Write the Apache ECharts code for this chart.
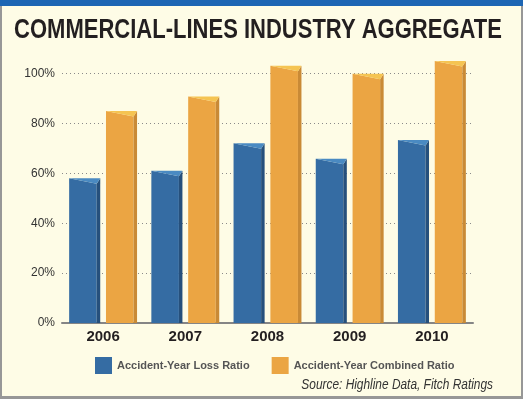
<!DOCTYPE html>
<html>
<head>
<meta charset="utf-8">
<script src="https://cdn.jsdelivr.net/npm/echarts@6/dist/echarts.min.js"></script>
<style>
html,body{margin:0;padding:0;background:#FEFCE6;}
#chart{width:523px;height:399px;}
</style>
</head>
<body>
<div id="chart"></div>
<script>
const titleText = 'COMMERCIAL-LINES INDUSTRY AGGREGATE';
const sourceText = 'Source: Highline Data, Fitch Ratings';
const categories = ['2006', '2007', '2008', '2009', '2010'];
const lossRatio = [58, 61, 72, 65.8, 73.3];
const combinedRatio = [85, 90.8, 103.1, 99.9, 105];
const seriesNames = ['Accident-Year Loss Ratio', 'Accident-Year Combined Ratio'];

const palettes = [
  { front: '#356CA3', side: '#26507C', cap: '#4A8AC2' },
  { front: '#EBA543', side: '#C98A36', cap: '#F5C452' }
];

function makeRender(kind) {
  return function (params, api) {
    const i = api.value(0), v = api.value(1);
    const top = api.coord([i, v]);
    const base = api.coord([i, 0]);
    const band = api.size([1, 0])[0];
    const w = band * 0.378, gap = band * 0.07;
    const x0 = kind === 0 ? top[0] - gap / 2 - w : top[0] + gap / 2;
    const x1 = x0 + w;
    const yt = top[1], yb = base[1];
    const d = 3.5, h = 5.5;
    const p = palettes[kind];
    return {
      type: 'group',
      children: [
        { type: 'polygon', shape: { points: [[x0, yt], [x1 - d, yt + h], [x1 - d, yb], [x0, yb]] }, style: { fill: p.front } },
        { type: 'polygon', shape: { points: [[x1 - d, yt + h], [x1, yt], [x1, yb], [x1 - d, yb]] }, style: { fill: p.side } },
        { type: 'polygon', shape: { points: [[x0, yt], [x1, yt], [x1 - d, yt + h]] }, style: { fill: p.cap } }
      ]
    };
  };
}

const chart = echarts.init(document.getElementById('chart'), null, { renderer: 'canvas' });
chart.setOption({
  backgroundColor: '#FEFCE6',
  animation: false,
  grid: { left: 62, right: 50, top: 73.5, bottom: 76 },
  xAxis: {
    type: 'category',
    data: categories,
    axisLine: { lineStyle: { color: '#858585', width: 2 } },
    axisTick: { show: false },
    axisLabel: { margin: 6, color: '#231F20', fontFamily: 'Liberation Sans', fontWeight: 'bold', fontSize: 15 }
  },
  yAxis: {
    type: 'value',
    min: 0, max: 100, interval: 20,
    axisLine: { show: false },
    axisTick: { show: false },
    axisLabel: { margin: 7, formatter: '{value}%', color: '#333', fontFamily: 'Liberation Sans', fontSize: 12 },
    splitLine: { lineStyle: { color: '#8a8a8a', width: 1, type: [1, 3] } }
  },
  legend: {
    left: 90, top: 352,
    itemWidth: 17, itemHeight: 17, itemGap: 22,
    icon: 'rect',
    data: seriesNames,
    textStyle: { color: '#555', fontFamily: 'Liberation Sans', fontWeight: 'bold', fontSize: 11 }
  },
  series: [
    {
      name: seriesNames[0], type: 'custom', clip: false,
      itemStyle: { color: palettes[0].front },
      renderItem: makeRender(0),
      encode: { x: 0, y: 1 },
      data: lossRatio.map((v, i) => [i, v])
    },
    {
      name: seriesNames[1], type: 'custom', clip: false,
      itemStyle: { color: palettes[1].front },
      renderItem: makeRender(1),
      encode: { x: 0, y: 1 },
      data: combinedRatio.map((v, i) => [i, v])
    }
  ],
  graphic: [
    { type: 'rect', shape: { x: 0, y: 0, width: 523, height: 6 }, style: { fill: '#1D66B4' } },
    { type: 'rect', shape: { x: 0, y: 6, width: 2, height: 393 }, style: { fill: '#979797' } },
    { type: 'rect', shape: { x: 521, y: 6, width: 2, height: 393 }, style: { fill: '#979797' } },
    { type: 'rect', shape: { x: 0, y: 396, width: 523, height: 3 }, style: { fill: '#979797' } },
    { type: 'text', x: 258, y: 31, scaleX: 0.815, style: { text: titleText, x: 0, y: 0, align: 'center', verticalAlign: 'middle', fill: '#231F20', font: 'bold 27px "Liberation Sans", sans-serif' } },
    { type: 'text', x: 493, y: 385, scaleX: 0.82, style: { text: sourceText, x: 0, y: 0, align: 'right', verticalAlign: 'middle', fill: '#333', font: 'italic 14.5px "Liberation Sans", sans-serif' } }
  ]
});
</script>
</body>
</html>
